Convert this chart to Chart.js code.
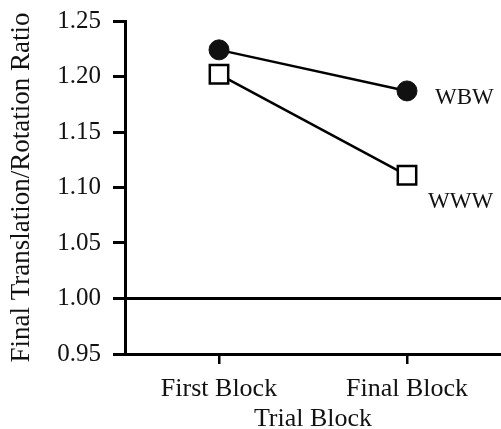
<!DOCTYPE html>
<html>
<head>
<meta charset="utf-8">
<script src="https://cdn.jsdelivr.net/npm/chart.js@4"></script>
<style>
  html, body { margin: 0; padding: 0; background: #fff; }
  #wrap { width: 501px; height: 429px; }
</style>
</head>
<body>
<div id="wrap"><canvas id="chart" width="501" height="429"></canvas></div>
<script>
// data
const blocks = ['First Block', 'Final Block'];
const wbw = [1.224, 1.187];
const www = [1.202, 1.111];
const seriesNames = ['WBW', 'WWW'];
const yTickValues = [0.95, 1.00, 1.05, 1.10, 1.15, 1.20, 1.25];
const refValue = 1.00;

const serif = '"Liberation Serif", "DejaVu Serif", serif';

// horizontal reference line at 1.00
const refLine = {
  id: 'refLine',
  beforeDatasetsDraw(chart) {
    const { ctx, chartArea, scales } = chart;
    const y = scales.y.getPixelForValue(refValue);
    ctx.save();
    ctx.strokeStyle = '#000';
    ctx.lineWidth = 3;
    ctx.beginPath();
    ctx.moveTo(chartArea.left, y);
    ctx.lineTo(chartArea.right, y);
    ctx.stroke();
    ctx.restore();
  }
};

// series names written next to the last point of each line
const endLabels = {
  id: 'endLabels',
  afterDatasetsDraw(chart) {
    const { ctx } = chart;
    const offsets = [[28, 7], [21, 27]];
    ctx.save();
    ctx.fillStyle = '#111';
    ctx.font = '23px ' + serif;
    ctx.textAlign = 'left';
    ctx.textBaseline = 'middle';
    chart.data.datasets.forEach((ds, i) => {
      const pts = chart.getDatasetMeta(i).data;
      const p = pts[pts.length - 1];
      ctx.fillText(seriesNames[i], p.x + offsets[i][0], p.y + offsets[i][1]);
    });
    ctx.restore();
  }
};

new Chart(document.getElementById('chart'), {
  type: 'line',
  data: {
    labels: blocks,
    datasets: [
      {
        label: seriesNames[0], data: wbw,
        borderColor: '#000', borderWidth: 2.5,
        pointStyle: 'circle', pointRadius: 10,
        pointBackgroundColor: '#111', pointBorderColor: '#111', pointBorderWidth: 1
      },
      {
        label: seriesNames[1], data: www,
        borderColor: '#000', borderWidth: 2.5,
        pointStyle: 'rect', pointRadius: 13,
        pointBackgroundColor: '#fff', pointBorderColor: '#000', pointBorderWidth: 2.5
      }
    ]
  },
  options: {
    responsive: false,
    animation: false,
    layout: { autoPadding: false, padding: { top: 21, right: 0, left: 0, bottom: 0 } },
    plugins: { legend: { display: false }, tooltip: { enabled: false } },
    scales: {
      x: {
        offset: true,
        afterFit(scale) {
          scale.height = 75;
          scale.paddingLeft = 0;
          scale.paddingRight = 0;
        },
        border: { display: true, color: '#000', width: 3 },
        grid: { display: true, offset: false, drawOnChartArea: false, drawTicks: true, tickLength: 10, color: '#000', lineWidth: 2.5 },
        ticks: { color: '#111', padding: 10, maxRotation: 0, font: { family: serif, size: 26 } },
        title: { display: true, text: 'Trial Block', color: '#111', padding: { top: 0, bottom: -3 }, font: { family: serif, size: 26, lineHeight: 1 } }
      },
      y: {
        min: 0.95, max: 1.25,
        afterFit(scale) {
          scale.width = 125;
          scale.paddingTop = 0;
          scale.paddingBottom = 0;
        },
        afterBuildTicks(scale) { scale.ticks = yTickValues.map(v => ({ value: v })); },
        border: { display: true, color: '#000', width: 3 },
        grid: { display: true, drawOnChartArea: false, drawTicks: true, tickLength: 12, color: '#000', lineWidth: 3 },
        ticks: { color: '#111', padding: 12, font: { family: serif, size: 25 }, callback: v => Number(v).toFixed(2) },
        title: { display: true, text: 'Final Translation/Rotation Ratio', color: '#111', padding: { top: 6, bottom: 0 }, font: { family: serif, size: 27 } }
      }
    }
  },
  plugins: [refLine, endLabels]
});
</script>
</body>
</html>
